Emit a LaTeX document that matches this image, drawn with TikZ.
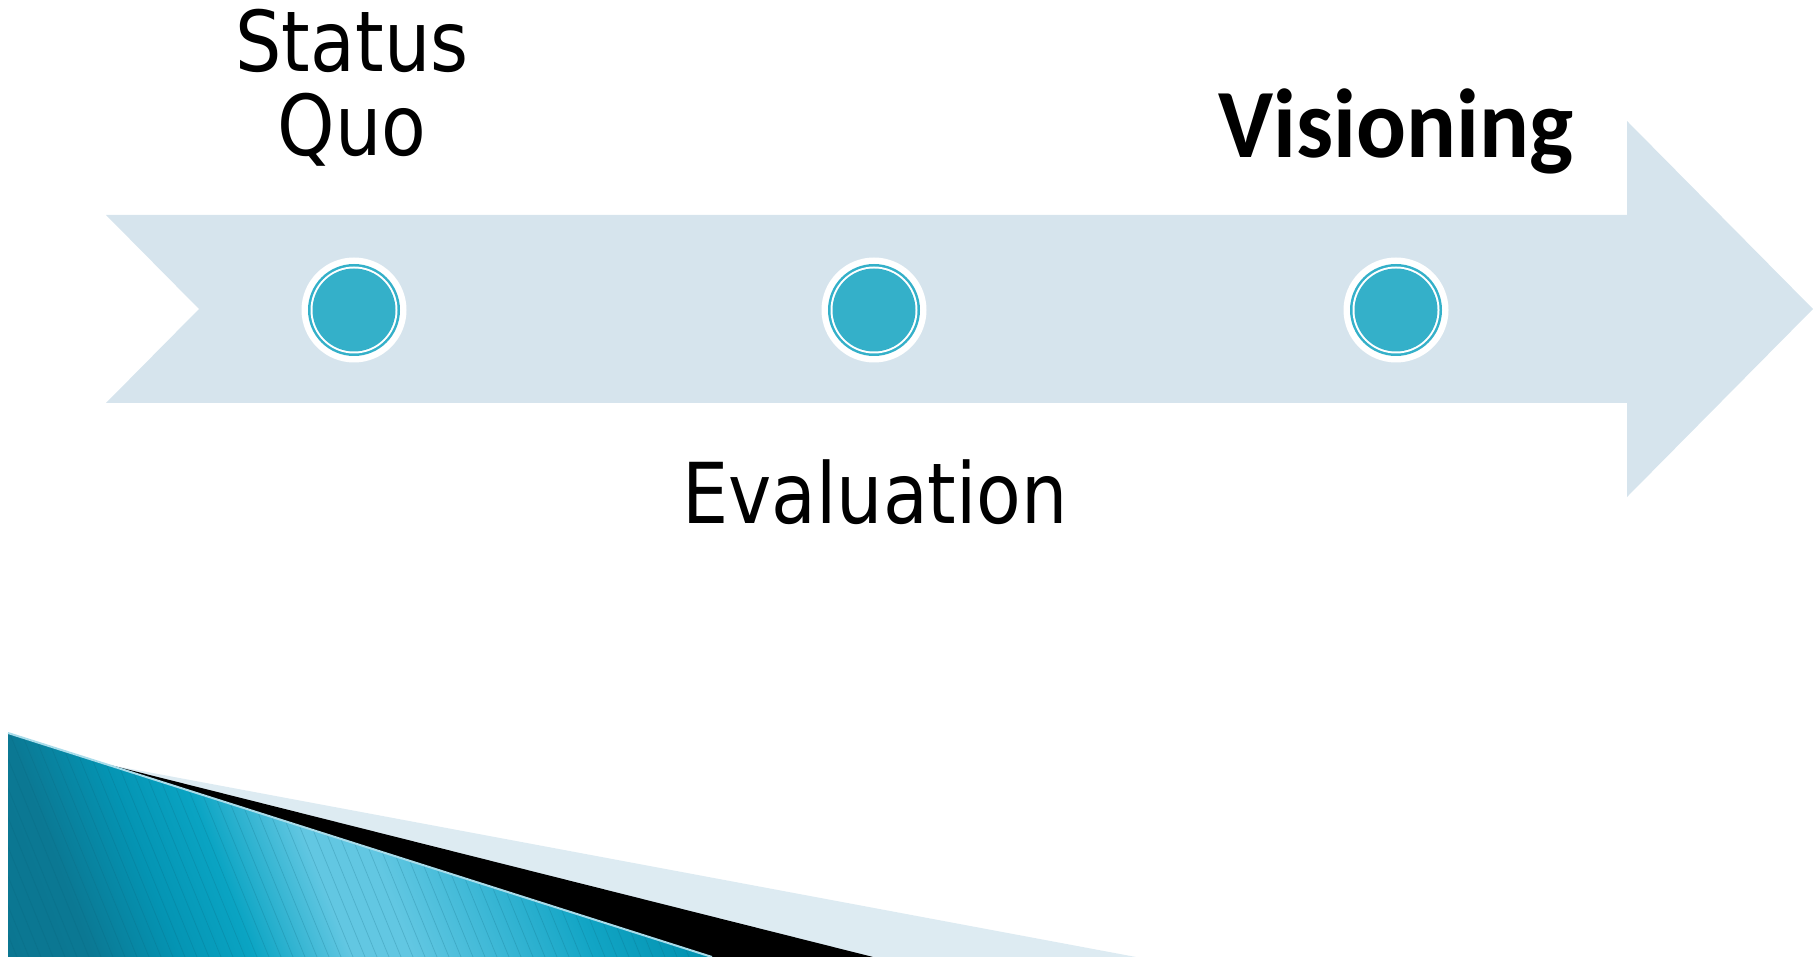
\documentclass[tikz,border=0pt]{standalone}
\usepackage{fontspec}
\newfontfamily\lfont[FakeStretch=0.87]{DejaVu Sans}
\newfontfamily\vfont[FakeStretch=0.95]{Carlito}
\definecolor{arrowblue}{HTML}{D6E4ED}
\definecolor{dotteal}{HTML}{34B0C9}
\definecolor{bandblue}{HTML}{DDEBF2}
\definecolor{tA}{HTML}{0B7590}
\definecolor{tB}{HTML}{0B7893}
\definecolor{tC}{HTML}{0494B3}
\definecolor{tD}{HTML}{0AA4C3}
\definecolor{tE}{HTML}{62C7E2}
\definecolor{tF}{HTML}{3DB8D6}
\definecolor{tG}{HTML}{12A5C5}
\definecolor{tH}{HTML}{0090AE}
\definecolor{stripe}{HTML}{0A5F75}
\definecolor{edgelight}{HTML}{A8DCEA}
\tikzset{
  milestone/.style={circle, inner sep=0pt, minimum size=105pt, fill=white,
    path picture={
      \fill[dotteal] (path picture bounding box.center) circle (46);
      \fill[white] (path picture bounding box.center) circle (43.5);
      \fill[dotteal] (path picture bounding box.center) circle (41.5);
    }},
  lbl/.style={inner sep=0pt, anchor=base, font=\lfont\fontsize{84}{84}\selectfont, text=black},
  vlbl/.style={inner sep=0pt, anchor=base, font=\vfont\bfseries\fontsize{98}{98}\selectfont, text=black}
}
\begin{document}
\begin{tikzpicture}[x=1pt,y=-1pt]
\useasboundingbox (0,0) rectangle (1813,957);
% big arrow
\fill[arrowblue] (106,215) -- (1627,215) -- (1627,121) -- (1813,309) -- (1627,497) -- (1627,403) -- (106,403) -- (199,309) -- cycle;
% milestones
\node[milestone] (m1) at (354,310) {};
\node[milestone] (m2) at (874,310) {};
\node[milestone] (m3) at (1396,310) {};
% labels
\node[lbl, align=center] (sq) at (352,156) {Status\\Quo};
\node[vlbl] (vis) at (1396,158) {Visioning};
\node[lbl] (ev) at (875,523) {Evaluation};
% bottom decoration
\fill[bandblue] (110,765) -- (1136,957) -- (700,957) -- cycle;
\fill[black] (110,765) -- (873,957) -- (712,957) -- cycle;
\begin{scope}
  \clip (8,733) -- (712,957) -- (8,957) -- cycle;
  \begin{scope}[transform canvas={rotate around={21:(360,900)}}]
    \shade[left color=tA, right color=tB] (-40,480) rectangle (91,1320);
    \shade[left color=tB, right color=tC] (90,480) rectangle (171,1320);
    \shade[left color=tC, right color=tD] (170,480) rectangle (241,1320);
    \shade[left color=tD, right color=tE] (240,480) rectangle (331,1320);
    \fill[tE] (330,480) rectangle (391,1320);
    \shade[left color=tE, right color=tF] (390,480) rectangle (471,1320);
    \shade[left color=tF, right color=tG] (470,480) rectangle (561,1320);
    \shade[left color=tG, right color=tH] (560,480) rectangle (671,1320);
    \fill[tH] (670,480) rectangle (780,1320);
  \end{scope}
  \foreach \s in {-700,-688,...,712} {
    \draw[stripe, opacity=0.22, line width=0.7pt] (\s,700) -- (\s+105,957);
  }
\end{scope}
\draw[edgelight, line width=2pt] (8,733) -- (712,957);
\end{tikzpicture}
\end{document}
